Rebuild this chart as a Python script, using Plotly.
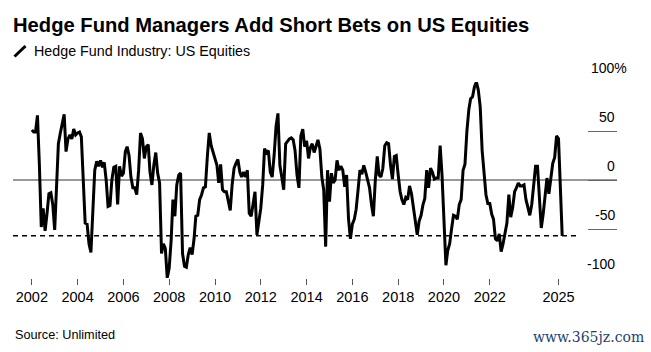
import pandas as pd
import plotly.graph_objects as go

y2002 = [51, 49, 49, 66, 17, -48, -29, -52, -34, -14, -13, -25]
y2003 = [-51, -10, 37, 48, 56, 67, 29, 42, 46, 42, 52, 46]
y2004 = [48, 49, 44, 0, -44, -45, -65, -74, -34, 10, 19, 14]
y2005 = [20, 13, 18, 0, -27, -26, 0, 13, 14, -25, 14, 4]
y2006 = [7, 29, 34, 25, 3, -8, -8, -15, 10, 48, 42, 22]
y2007 = [34, 36, 8, -5, 15, 28, 7, -3, -75, -65, -70, -100]
y2008 = [-90, -62, -20, -37, -5, 5, 7, -75, -88, -89, -76, -69]
y2009 = [-76, -60, -37, -36, -20, -15, -8, -7, 24, 48, 35, 28]
y2010 = [20, 15, -3, 16, -10, -12, -12, -20, -31, -5, 12, 17]
y2011 = [21, 8, 3, 8, 3, 10, -34, -37, -24, -12, -56, -44]
y2012 = [-29, -5, 32, 28, 30, 8, 3, 25, 55, 68, 15, 3]
y2013 = [-10, 37, 40, 42, 43, 41, 30, 5, -8, 45, 52, 34]
y2014 = [40, 22, 33, 37, 28, 36, 41, 32, 3, -10, -68, 10]
y2015 = [-22, 7, -3, 0, 20, 10, 14, 10, -7, 5, -40, -60]
y2016 = [-45, -40, -30, -10, 10, 6, 15, 8, -2, -8, -25, -37]
y2017 = [0, 24, 5, 3, 12, 35, 38, 37, 15, 1, 24, 25]
y2018 = [5, -12, -20, -25, -18, -20, -6, -14, -28, -40, -56, -42]
y2019 = [-36, -25, -19, 10, -8, 12, 8, 1, 2, 2, 35, 5]
y2020 = [-35, -87, -72, -65, -50, -36, -37, -40, -25, -20, 10, 16]
y2021 = [50, 72, 83, 85, 95, 100, 92, 75, 30, 3, -15, -24]
y2022 = [-24, -35, -40, -60, -62, -55, -73, -65, -55, -44, -15, -38]
y2023 = [-28, -12, -8, -3, -6, -6, -5, -20, -28, -36, -25, -5]
y2024 = [14, 14, -15, -49, -35, -15, 2, -14, 5, 17, 23, 45]
y2025 = [42, -5, -57]

values = (y2002 + y2003 + y2004 + y2005 + y2006 + y2007 + y2008 + y2009 + y2010 + y2011
          + y2012 + y2013 + y2014 + y2015 + y2016 + y2017 + y2018 + y2019 + y2020 + y2021
          + y2022 + y2023 + y2024 + y2025)
dates = pd.date_range("2002-01-01", periods=len(values), freq="MS")

tick_years = [2002, 2004, 2006, 2008, 2010, 2012, 2014, 2016, 2018, 2020, 2022, 2025]
y_ticks = [-100, -50, 0, 50, 100]
y_labels = ["-100", "-50", "0", "50", "100%"]
threshold = -57

title = "Hedge Fund Managers Add Short Bets on US Equities"
subtitle = "Hedge Fund Industry: US Equities"
source = "Source: Unlimited"
watermark = "www.365jz.com"

W, H = 651, 352
L, R, T, B = 13, 617, 82, 278
pw, ph = R - L, B - T
FONT = "Liberation Sans, Arial, sans-serif"


def px(x):
    return (x - L) / pw


def py(y):
    return (B - y) / ph


fig = go.Figure(go.Scatter(
    x=dates, y=values, mode="lines",
    line=dict(color="#000000", width=3, shape="linear"),
    showlegend=False, hoverinfo="skip", cliponaxis=False,
))

annotations = [
    dict(text=subtitle, xref="paper", yref="paper", x=px(32), y=py(51), xanchor="left", yanchor="middle",
         showarrow=False, font=dict(family=FONT, size=14.3, color="#000000")),
    dict(text=source, xref="paper", yref="paper", x=px(13), y=py(335), xanchor="left", yanchor="middle",
         showarrow=False, font=dict(family=FONT, size=12.7, color="#000000")),
    dict(text=watermark, xref="paper", yref="paper", x=px(646), y=py(337), xanchor="right", yanchor="middle",
         showarrow=False, font=dict(family="DejaVu Serif, serif", size=14, color="#1f3f70")),
]
for v, lab in zip(y_ticks, y_labels):
    annotations.append(dict(
        text=lab, xref="paper", yref="y", x=px(629 if lab.endswith("%") else 617), y=v,
        xanchor="right", yanchor="bottom", yshift=4, showarrow=False,
        font=dict(family=FONT, size=14, color="#000000"),
    ))

shapes = [
    dict(type="line", xref="paper", yref="y", x0=0, x1=1, y0=0, y1=0, layer="below",
         line=dict(color="#333333", width=1)),
    dict(type="line", xref="paper", yref="y", x0=0, x1=px(580), y0=threshold, y1=threshold, layer="below",
         line=dict(color="#000000", width=1.5, dash="5px,4px")),
    dict(type="line", xref="paper", yref="paper", x0=px(14.5), x1=px(25.5), y0=py(56.5), y1=py(46),
         line=dict(color="#000000", width=3)),
]

fig.update_layout(
    width=W, height=H,
    margin=dict(l=L, r=W - R, t=T, b=H - B, pad=0),
    paper_bgcolor="#ffffff", plot_bgcolor="#ffffff",
    font=dict(family=FONT, color="#000000"),
    title=dict(text=f"<b>{title}</b>", xref="paper", x=0, xanchor="left",
               yref="container", y=1 - 25 / H, yanchor="middle",
               font=dict(family=FONT, size=20.2, color="#000000")),
    xaxis=dict(
        type="date", range=["2001-03-07", "2027-07-23"], showgrid=False, zeroline=False, showline=False,
        tickmode="array", tickvals=[f"{y}-01-01" for y in tick_years], ticktext=[str(y) for y in tick_years],
        ticks="outside", ticklen=6, tickwidth=1, tickcolor="#555555",
        tickfont=dict(family=FONT, size=14.5, color="#000000"),
    ),
    yaxis=dict(
        range=[-100, 100], side="right", showgrid=False, zeroline=False, showline=False,
        tickmode="array", tickvals=y_ticks, ticks="inside", ticklen=29, tickwidth=1, tickcolor="#666666",
        showticklabels=False,
    ),
    annotations=annotations, shapes=shapes,
)

fig.write_html(
    "out.html",
    config={"displayModeBar": False},
    post_script="document.body.style.margin='0';document.documentElement.style.overflow='hidden';",
)
